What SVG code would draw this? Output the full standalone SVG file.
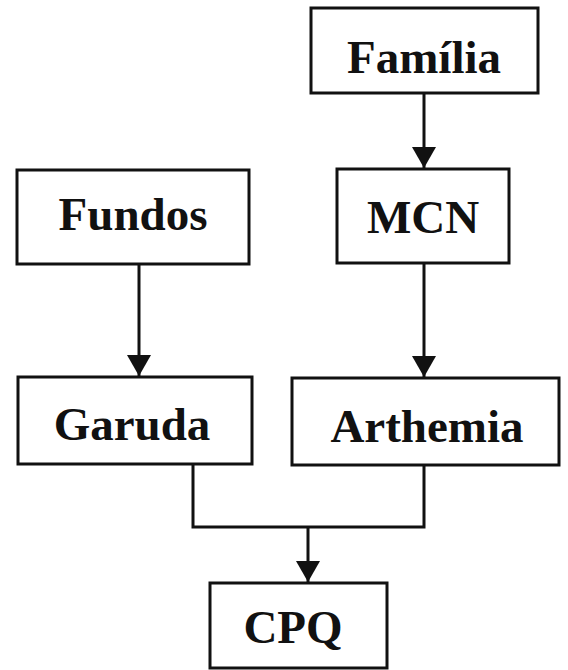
<svg xmlns="http://www.w3.org/2000/svg" width="568" height="670" viewBox="0 0 568 670">
<defs>
<style>
.box{fill:#fff;stroke:#111;stroke-width:3}
.lbl{font-family:"Liberation Serif","Times New Roman",serif;font-weight:bold;font-size:47px;fill:#111;text-anchor:middle}
.con{fill:none;stroke:#111;stroke-width:3}
</style>
<marker id="ah" markerWidth="8" markerHeight="8" refX="7" refY="4" orient="auto" markerUnits="strokeWidth">
<path d="M0,0 L7,4 L0,8 Z" fill="#111"/>
</marker>
</defs>
<rect width="568" height="670" fill="#fff"/>
<g id="connectors">
<line class="con" x1="424" y1="93" x2="424" y2="168" marker-end="url(#ah)"/>
<line class="con" x1="424" y1="264" x2="424" y2="377" marker-end="url(#ah)"/>
<line class="con" x1="139" y1="264" x2="139" y2="376" marker-end="url(#ah)"/>
<polyline class="con" points="193,465 193,527 424,527 424,466"/>
<line class="con" x1="308" y1="527" x2="308" y2="582" marker-end="url(#ah)"/>
</g>
<g id="familia"><rect class="box" x="311" y="8" width="227" height="85"/><text class="lbl" x="424" y="73">Família</text></g>
<g id="mcn"><rect class="box" x="337" y="169" width="172" height="94"/><text class="lbl" x="423" y="233">MCN</text></g>
<g id="fundos"><rect class="box" x="17" y="170" width="232" height="94"/><text class="lbl" x="133" y="230">Fundos</text></g>
<g id="garuda"><rect class="box" x="18" y="377" width="234" height="87"/><text class="lbl" x="132" y="440">Garuda</text></g>
<g id="arthemia"><rect class="box" x="292" y="378" width="267" height="87"/><text class="lbl" x="427" y="442">Arthemia</text></g>
<g id="cpq"><rect class="box" x="210" y="583" width="177" height="85"/><text class="lbl" x="293" y="643">CPQ</text></g>
</svg>
